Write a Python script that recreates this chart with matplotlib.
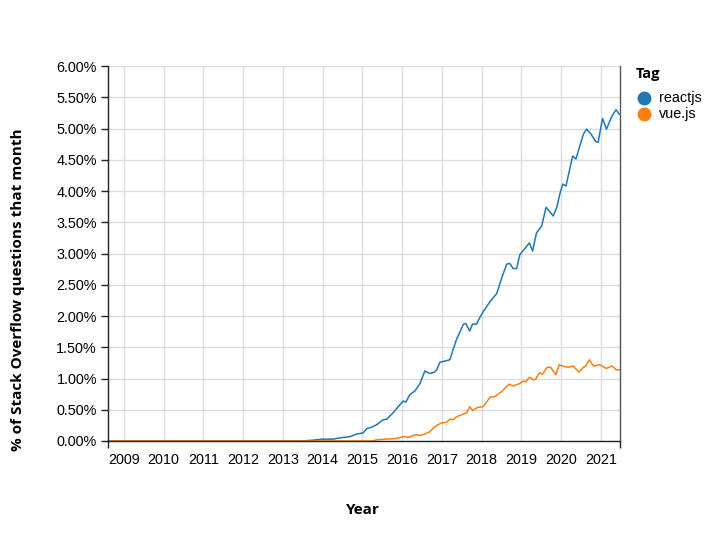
import numpy as np
import matplotlib
matplotlib.use("Agg")
import matplotlib.pyplot as plt
from matplotlib.ticker import FuncFormatter, FixedLocator
from matplotlib.lines import Line2D

# Data (decimal year, % of questions)
react_year = [2008.6, 2013.4, 2013.7, 2014.0, 2014.27, 2014.43, 2014.69, 2014.85, 2015.02, 2015.11,
              2015.23, 2015.36, 2015.52, 2015.62, 2015.69, 2015.77, 2015.90, 2016.03, 2016.09, 2016.19,
              2016.32, 2016.45, 2016.57, 2016.70, 2016.81, 2016.87, 2016.95, 2017.08, 2017.20, 2017.28,
              2017.37, 2017.45, 2017.54, 2017.60, 2017.70, 2017.77, 2017.87, 2017.94, 2018.04, 2018.21,
              2018.38, 2018.50, 2018.63, 2018.71, 2018.79, 2018.88, 2018.96, 2019.06, 2019.20, 2019.28,
              2019.38, 2019.51, 2019.62, 2019.80, 2019.89, 2019.97, 2020.04, 2020.12, 2020.29, 2020.37,
              2020.56, 2020.64, 2020.74, 2020.87, 2020.93, 2021.04, 2021.14, 2021.27, 2021.38, 2021.46]
react_pct = [0.0, 0.0, 0.01, 0.03, 0.03, 0.05, 0.07, 0.11, 0.13, 0.20,
             0.22, 0.26, 0.34, 0.35, 0.40, 0.45, 0.55, 0.64, 0.62, 0.74,
             0.80, 0.92, 1.12, 1.08, 1.10, 1.14, 1.26, 1.28, 1.30, 1.46,
             1.63, 1.74, 1.87, 1.88, 1.76, 1.87, 1.87, 1.96, 2.07, 2.23,
             2.36, 2.60, 2.83, 2.84, 2.76, 2.76, 2.98, 3.06, 3.17, 3.04,
             3.33, 3.44, 3.74, 3.60, 3.74, 3.96, 4.11, 4.08, 4.56, 4.51,
             4.91, 4.99, 4.92, 4.79, 4.78, 5.16, 4.99, 5.19, 5.30, 5.23]

vue_year = [2008.6, 2015.24, 2015.36, 2015.61, 2015.86, 2016.03, 2016.19, 2016.32, 2016.45, 2016.57,
            2016.70, 2016.82, 2016.99, 2017.12, 2017.20, 2017.28, 2017.37, 2017.54, 2017.62, 2017.70,
            2017.77, 2017.91, 2018.04, 2018.21, 2018.33, 2018.50, 2018.69, 2018.79, 2018.96, 2019.05,
            2019.11, 2019.20, 2019.30, 2019.36, 2019.45, 2019.53, 2019.65, 2019.73, 2019.87, 2019.95,
            2020.09, 2020.18, 2020.30, 2020.45, 2020.56, 2020.62, 2020.71, 2020.81, 2020.97, 2021.13,
            2021.28, 2021.38, 2021.46]
vue_pct = [0.0, 0.0, 0.02, 0.03, 0.04, 0.07, 0.06, 0.10, 0.09, 0.11,
           0.15, 0.23, 0.29, 0.30, 0.35, 0.34, 0.39, 0.43, 0.45, 0.55,
           0.49, 0.54, 0.55, 0.70, 0.71, 0.79, 0.91, 0.88, 0.92, 0.96,
           0.95, 1.02, 0.98, 0.99, 1.09, 1.07, 1.18, 1.18, 1.06, 1.22,
           1.19, 1.18, 1.20, 1.10, 1.18, 1.20, 1.30, 1.20, 1.22, 1.16,
           1.20, 1.14, 1.14]

tags = ["reactjs", "vue.js"]
colors = ["#1f77b4", "#ff7f0e"]
years = list(range(2009, 2022))

fig = plt.figure(figsize=(7.28, 5.38), dpi=100)
ax = fig.add_axes([108 / 728, 97 / 538, 512 / 728, 375 / 538])

ax.plot(react_year, react_pct, color=colors[0], lw=1.1)
ax.plot(vue_year, vue_pct, color=colors[1], lw=1.1)

x0, x1 = 2008.6, 2021.48
ax.set_xlim(x0, x1)
ax.set_ylim(0, 6)

tick_font = "Liberation Sans"
ax.set_xticks(years)
ax.set_xticklabels([str(y) for y in years], fontfamily=tick_font, fontsize=10.4)
ax.xaxis.set_minor_locator(FixedLocator([x0] + years[1:] + [x1]))
ax.tick_params(axis="x", which="major", length=0, pad=9)
ax.tick_params(axis="x", which="minor", length=5, width=1, color="#222")

ax.set_yticks(np.arange(0, 6.01, 0.5))
ax.yaxis.set_major_formatter(FuncFormatter(lambda v, p: f"{v:.2f}%"))
for lab in ax.get_yticklabels():
    lab.set_fontfamily(tick_font)
    lab.set_fontsize(10.4)
ax.tick_params(axis="y", length=5, width=1, color="#222", pad=3)

ax.grid(True, which="major", color="#dddddd", lw=1)
ax.set_axisbelow(True)
ax.spines["top"].set_visible(False)
ax.spines["left"].set_color("#222")
ax.spines["bottom"].set_color("#222")
ax.spines["right"].set_color("#555")
for s in ax.spines.values():
    s.set_linewidth(1)

fig.text(363 / 728, 1 - 510 / 538, "Year", ha="center", va="center",
         fontfamily="Open Sans", fontweight="bold", fontsize=11)
fig.text(18 / 728, 1 - 290 / 538, "% of Stack Overflow questions that month", ha="center", va="center",
         rotation=90, fontfamily="Open Sans", fontweight="bold", fontsize=11)

# legend
fig.text(636 / 728, 1 - 74 / 538, "Tag", ha="left", va="center",
         fontfamily="Open Sans", fontweight="bold", fontsize=10.5)
for i, (tag, c) in enumerate(zip(tags, colors)):
    yy = 1 - (98 + 16 * i) / 538
    fig.add_artist(Line2D([644 / 728], [yy], marker="o", markersize=9, color=c, lw=0,
                          transform=fig.transFigure))
    fig.text(659 / 728, yy, tag, ha="left", va="center", fontfamily=tick_font, fontsize=10.4)

fig.savefig("out.png", dpi=100)
